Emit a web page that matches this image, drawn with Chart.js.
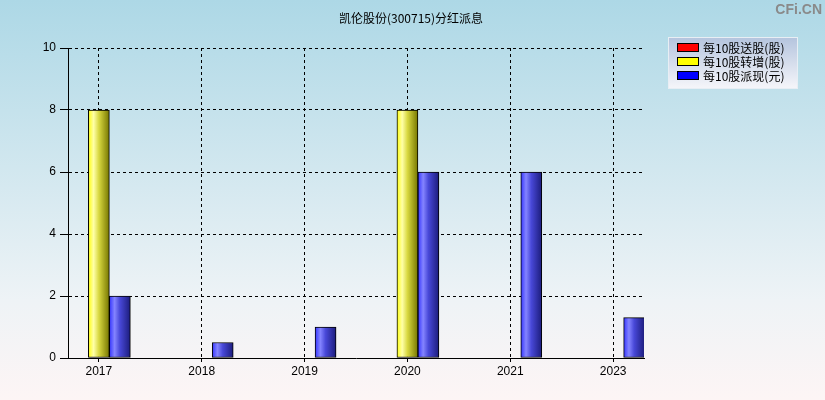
<!DOCTYPE html>
<html>
<head>
<meta charset="utf-8">
<script src="https://cdn.jsdelivr.net/npm/chart.js@4/dist/chart.umd.min.js"></script>
<style>
  html, body { margin: 0; padding: 0; }
  #wrap { width: 825px; height: 400px; }
</style>
</head>
<body>
<div id="wrap"><canvas id="Chart1" width="825" height="400"></canvas></div>
<script>
const years = ["2017", "2018", "2019", "2020", "2021", "2023"];
const songGu = [0, 0, 0, 0, 0, 0];        // 每10股送股(股)
const zhuanZeng = [8, 0, 0, 8, 0, 0];     // 每10股转增(股)
const paiXian = [2, 0.5, 1, 6, 6, 1.3];   // 每10股派现(元)
const seriesNames = ["每10股送股(股)", "每10股转增(股)", "每10股派现(元)"];
const swatchColors = ["#ff0000", "#ffff00", "#0000ff"];
const yMax = 10, yStep = 2;

const cjk = "'Noto Sans CJK SC', 'Liberation Sans', sans-serif";

// horizontal shading like the original bars
function barFill(stops) {
  return function (c) {
    const xs = c.chart.scales.x;
    if (c.type !== 'data' || !xs) return stops[1];
    const cx = xs.getPixelForValue(c.dataIndex) + (c.datasetIndex - 1) * 21;
    if (!isFinite(cx)) return stops[1];
    const g = c.chart.ctx.createLinearGradient(cx - 10.5, 0, cx + 10.5, 0);
    g.addColorStop(0, stops[0]);
    g.addColorStop(0.25, stops[1]);
    g.addColorStop(0.5, stops[2]);
    g.addColorStop(1, stops[3]);
    return g;
  };
}

const decor = {
  id: 'decor',
  beforeDraw(chart) {
    const ctx = chart.ctx;
    const g = ctx.createLinearGradient(0, 0, 0, 400);
    g.addColorStop(0, '#add8e6');
    g.addColorStop(0.75, '#eef3f6');
    g.addColorStop(1, '#fdf5f5');
    ctx.save();
    ctx.fillStyle = g;
    ctx.fillRect(0, 0, 825, 400);
    ctx.restore();
  },
  afterDraw(chart) {
    const ctx = chart.ctx;
    ctx.save();
    // title
    ctx.fillStyle = '#000';
    ctx.font = "12px " + cjk;
    ctx.textAlign = 'center';
    ctx.textBaseline = 'middle';
    ctx.fillText("凯伦股份(300715)分红派息", 411, 18);
    // watermark
    ctx.fillStyle = '#8a8a8a';
    ctx.font = "bold 14px 'Liberation Sans', sans-serif";
    ctx.textAlign = 'right';
    ctx.fillText("CFi.CN", 822, 10);
    // legend box
    const lg = ctx.createLinearGradient(0, 37, 0, 89);
    lg.addColorStop(0, '#b4c4de');
    lg.addColorStop(1, '#f6f6fa');
    ctx.fillStyle = lg;
    ctx.fillRect(668, 37, 130, 52);
    ctx.strokeStyle = '#e8eef4';
    ctx.lineWidth = 1;
    ctx.strokeRect(668.5, 37.5, 129, 51);
    ctx.font = "12px " + cjk;
    ctx.textAlign = 'left';
    seriesNames.forEach((name, i) => {
      const y = 43 + i * 14;
      ctx.fillStyle = swatchColors[i];
      ctx.fillRect(677, y, 22, 9);
      ctx.strokeStyle = '#000';
      ctx.strokeRect(677.5, y + 0.5, 21, 8);
      ctx.fillStyle = '#000';
      ctx.fillText(name, 703, y + 5);
    });
    ctx.restore();
  }
};

new Chart(document.getElementById('Chart1'), {
  type: 'bar',
  data: {
    datasets: [
      { label: seriesNames[0], data: songGu.map((v, i) => ({x: i, y: v})),
        backgroundColor: barFill(['#ff2020', '#ff9a9a', '#e02020', '#7a0000']) },
      { label: seriesNames[1], data: zhuanZeng.map((v, i) => ({x: i, y: v})),
        backgroundColor: barFill(['#ffff10', '#ffffa8', '#d8d840', '#767600']) },
      { label: seriesNames[2], data: paiXian.map((v, i) => ({x: i, y: v})),
        backgroundColor: barFill(['#3434ff', '#8484ff', '#4848d8', '#1c1c7c']) }
    ]
  },
  options: {
    responsive: false,
    animation: false,
    layout: { padding: { left: 0, top: 48, right: 181, bottom: 0 } },
    datasets: {
      bar: { barThickness: 21, borderColor: '#000', borderWidth: 1, borderSkipped: false }
    },
    plugins: {
      legend: { display: false },
      title: { display: false },
      tooltip: { enabled: false }
    },
    scales: {
      x: {
        type: 'linear',
        offset: false,
        min: -0.3,
        max: years.length - 0.7,
        afterFit: s => { s.height = 42; },
        afterBuildTicks: s => { s.ticks = years.map((_, i) => ({value: i})); },
        ticks: {
          callback: v => years[v],
          color: '#000',
          padding: 2,
          maxRotation: 0,
          font: { family: "'Liberation Sans', sans-serif", size: 12 }
        },
        grid: { offset: false, color: '#000', tickLength: 4, tickColor: '#000', tickBorderDash: [] },
        border: { display: true, color: '#000', width: 1, dash: [3, 3] }
      },
      y: {
        min: 0,
        max: yMax,
        afterFit: s => { s.width = 68; },
        ticks: {
          stepSize: yStep,
          color: '#000',
          padding: 4,
          font: { family: "'Liberation Sans', sans-serif", size: 12 }
        },
        grid: { color: '#000', tickLength: 8, tickColor: '#000', tickBorderDash: [] },
        border: { display: true, color: '#000', width: 1, dash: [3, 3] }
      }
    }
  },
  plugins: [decor]
});
</script>
</body>
</html>
